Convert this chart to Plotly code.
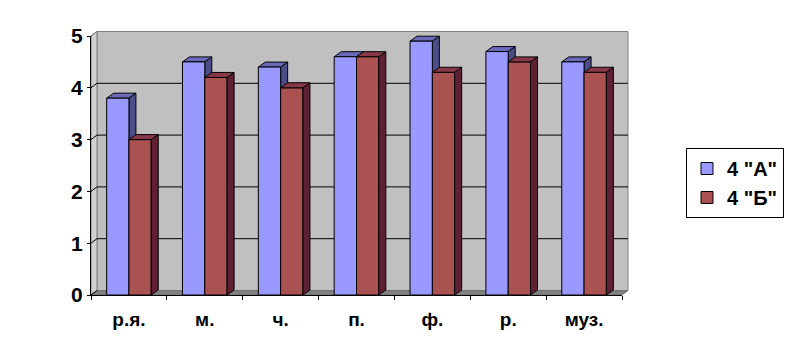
import plotly.graph_objects as go

# ---- data ----
categories = ["р.я.", "м.", "ч.", "п.", "ф.", "р.", "муз."]
series_a = [3.8, 4.5, 4.4, 4.6, 4.9, 4.7, 4.5]
series_b = [3.0, 4.2, 4.0, 4.6, 4.3, 4.5, 4.3]
series_names = ['4 "А"', '4 "Б"']
y_ticks = [0, 1, 2, 3, 4, 5]

# ---- layout constants ----
W, H = 788, 355
ML, MR, MT, MB = 91, 166, 36, 60
PW, PH = W - ML - MR, H - MT - MB
XMIN, XMAX = -0.5, len(categories) - 0.5
YMIN, YMAX = 0, 5
BAR_W = 0.294

col_a, col_a_top, col_a_side = "#9999FF", "#6A6AB8", "#4C4C88"
col_b, col_b_top, col_b_side = "#AA5252", "#883848", "#602034"
wall_col, floor_col, lwall_col = "#C0C0C0", "#808080", "#D0D0D0"

# pixel offsets for depth
WALL_DX, WALL_DY = 6 / PW, 4.5 / PH
BAR_DX, BAR_DY = 7 / PW, 5 / PH


def px(x):
    return (x - XMIN) / (XMAX - XMIN)


def py(y):
    return (y - YMIN) / (YMAX - YMIN)


def poly(pts):
    return "M" + " L".join(f"{a:.5f},{b:.5f}" for a, b in pts) + " Z"


shapes = []
# back wall
shapes.append(dict(type="path", xref="paper", yref="paper", layer="below",
                   path=poly([(px(XMIN) + WALL_DX, py(YMIN) + WALL_DY),
                              (px(XMAX) + WALL_DX, py(YMIN) + WALL_DY),
                              (px(XMAX) + WALL_DX, py(YMAX) + WALL_DY),
                              (px(XMIN) + WALL_DX, py(YMAX) + WALL_DY)]),
                   fillcolor=wall_col, line=dict(color="#808080", width=1)))
# left wall
shapes.append(dict(type="path", xref="paper", yref="paper", layer="below",
                   path=poly([(px(XMIN), py(YMIN)), (px(XMIN) + WALL_DX, py(YMIN) + WALL_DY),
                              (px(XMIN) + WALL_DX, py(YMAX) + WALL_DY), (px(XMIN), py(YMAX))]),
                   fillcolor=lwall_col, line=dict(color="#808080", width=1)))
# floor
shapes.append(dict(type="path", xref="paper", yref="paper", layer="below",
                   path=poly([(px(XMIN), py(YMIN)), (px(XMAX), py(YMIN)),
                              (px(XMAX) + WALL_DX, py(YMIN) + WALL_DY),
                              (px(XMIN) + WALL_DX, py(YMIN) + WALL_DY)]),
                   fillcolor=floor_col, line=dict(color="#707070", width=1)))
# gridlines on back wall and left wall
for t in y_ticks[1:-1]:
    shapes.append(dict(type="line", xref="paper", yref="paper", layer="below",
                       x0=px(XMIN) + WALL_DX, x1=px(XMAX) + WALL_DX,
                       y0=py(t) + WALL_DY, y1=py(t) + WALL_DY,
                       line=dict(color="black", width=1)))
for t in y_ticks[:-1]:
    shapes.append(dict(type="line", xref="paper", yref="paper", layer="below",
                       x0=px(XMIN), x1=px(XMIN) + WALL_DX,
                       y0=py(t), y1=py(t) + WALL_DY,
                       line=dict(color="black", width=1)))
shapes.append(dict(type="line", xref="paper", yref="paper", layer="below",
                   x0=px(XMIN), x1=px(XMIN) + WALL_DX,
                   y0=py(YMAX), y1=py(YMAX) + WALL_DY,
                   line=dict(color="#808080", width=1)))

edge = dict(color="black", width=1)
for i, (va, vb) in enumerate(zip(series_a, series_b)):
    # blue bar: [i - BAR_W, i]
    x0, x1 = px(i - BAR_W), px(i)
    shapes.append(dict(type="path", xref="paper", yref="paper", layer="below",
                       path=poly([(x0, py(va)), (x1, py(va)), (x1 + BAR_DX, py(va) + BAR_DY),
                                  (x0 + BAR_DX, py(va) + BAR_DY)]),
                       fillcolor=col_a_top, line=edge))
    shapes.append(dict(type="path", xref="paper", yref="paper", layer="below",
                       path=poly([(x1, py(0)), (x1, py(va)), (x1 + BAR_DX, py(va) + BAR_DY),
                                  (x1 + BAR_DX, py(0) + BAR_DY)]),
                       fillcolor=col_a_side, line=edge))
    # red bar: [i, i + BAR_W]
    x0, x1 = px(i), px(i + BAR_W)
    shapes.append(dict(type="path", xref="paper", yref="paper", layer="above",
                       path=poly([(x0, py(vb)), (x1, py(vb)), (x1 + BAR_DX, py(vb) + BAR_DY),
                                  (x0 + BAR_DX, py(vb) + BAR_DY)]),
                       fillcolor=col_b_top, line=edge))
    shapes.append(dict(type="path", xref="paper", yref="paper", layer="above",
                       path=poly([(x1, py(0)), (x1, py(vb)), (x1 + BAR_DX, py(vb) + BAR_DY),
                                  (x1 + BAR_DX, py(0) + BAR_DY)]),
                       fillcolor=col_b_side, line=edge))

fig = go.Figure()
fig.add_trace(go.Bar(x=categories, y=series_a, name=series_names[0], width=BAR_W, offset=-BAR_W,
                     marker=dict(color=col_a, line=dict(color="black", width=1)),
                     legendgroup="a"))
fig.add_trace(go.Bar(x=categories, y=series_b, name=series_names[1], width=BAR_W, offset=0,
                     marker=dict(color=col_b, line=dict(color="black", width=1)),
                     legendgroup="b"))

font_family = "Liberation Sans, Arial, sans-serif"
fig.update_layout(
    width=W, height=H,
    margin=dict(l=ML, r=MR, t=MT, b=MB, pad=0, autoexpand=False),
    paper_bgcolor="white", plot_bgcolor="rgba(0,0,0,0)",
    barmode="group",
    shapes=shapes,
    showlegend=True,
    legend=dict(x=(686 - ML) / PW, y=(H - MB - 148) / PH, xanchor="left", yanchor="top",
                bordercolor="black", borderwidth=1, bgcolor="white",
                itemwidth=30,
                font=dict(family=font_family, size=20, color="black", weight=700),
                tracegroupgap=0),
    xaxis=dict(type="category", range=[XMIN, XMAX], showgrid=False, zeroline=False,
               showline=True, linecolor="black", linewidth=1,
               ticks="outside", tickson="boundaries", ticklen=4, tickcolor="black",
               ticklabelstandoff=7,
               tickfont=dict(family=font_family, size=19, color="black", weight=700)),
    yaxis=dict(range=[YMIN, YMAX], tickvals=y_ticks, showgrid=False, zeroline=False,
               showline=True, linecolor="black", linewidth=1,
               ticks="outside", ticklen=3, tickcolor="black",
               tickfont=dict(family=font_family, size=21, color="black", weight=700)),
)

fig.write_html("out.html")
